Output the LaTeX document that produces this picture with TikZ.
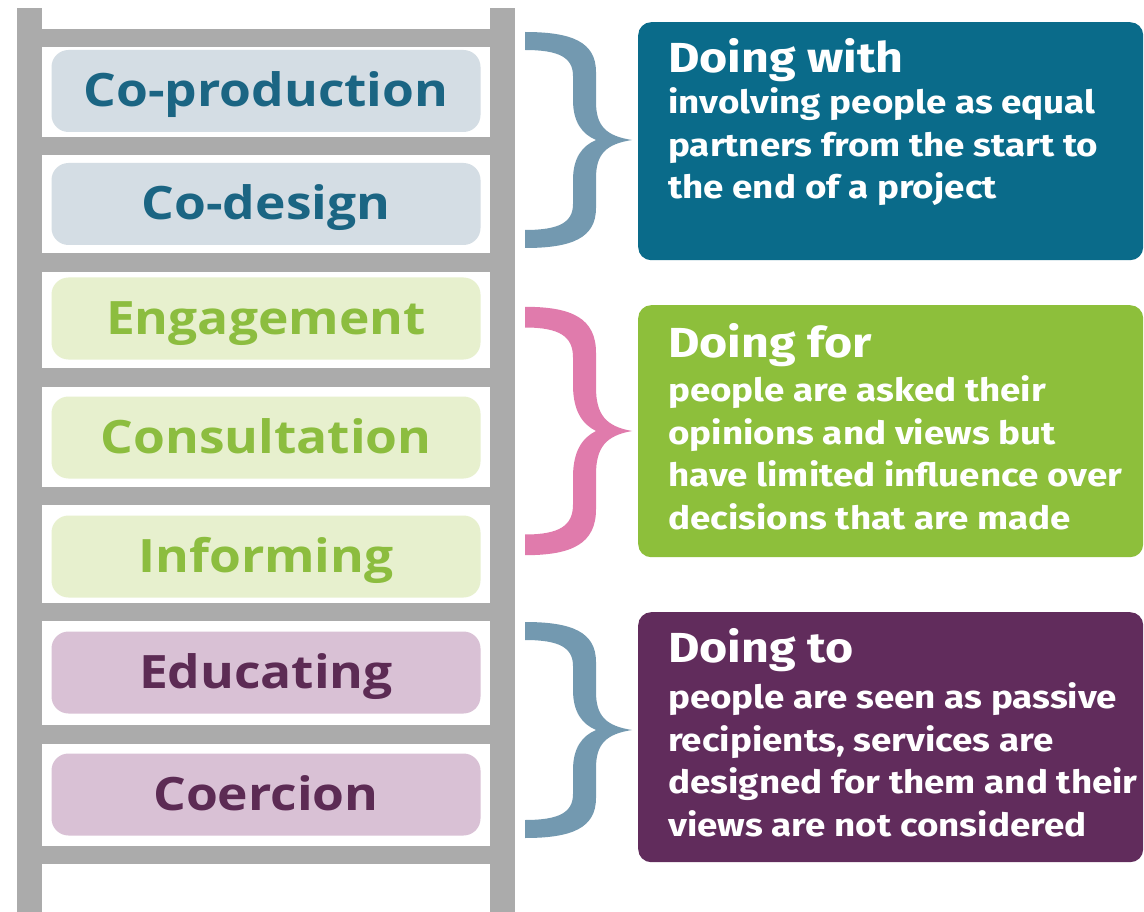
\documentclass[tikz,border=0pt]{standalone}
\usepackage{fontspec}
\newfontfamily\laddfont{Open Sans}[FakeStretch=1.12]
\newfontfamily\boxfont{Fira Sans}[FakeStretch=1.15]

\definecolor{railgray}{HTML}{ABABAB}
\definecolor{withfill}{HTML}{D4DDE4}
\definecolor{withtext}{HTML}{1B6583}
\definecolor{forfill}{HTML}{E7F0CE}
\definecolor{fortext}{HTML}{8CBD3F}
\definecolor{tofill}{HTML}{D9C1D5}
\definecolor{totext}{HTML}{5C2B54}
\definecolor{withbox}{HTML}{0A6B8A}
\definecolor{forbox}{HTML}{8DBF3B}
\definecolor{tobox}{HTML}{612C5C}
\definecolor{braceblue}{HTML}{7399B0}
\definecolor{bracepink}{HTML}{E07BAC}

\tikzset{
	rungbox/.style={rounded corners=17pt, minimum width=429pt, minimum height=82pt, inner sep=0pt,
		font=\laddfont\bfseries\fontsize{46}{50}\selectfont, text height=34pt, text depth=2pt},
	sidebox/.style={rounded corners=13pt, minimum width=505pt, inner sep=0pt, anchor=north west},
	headtxt/.style={font=\boxfont\bfseries\fontsize{42}{46}\selectfont, text=white, anchor=base west, inner sep=0pt},
	% base of a multi-line node = baseline of its last line
	bodytxt/.style={font=\boxfont\bfseries\fontsize{32}{42.5}\selectfont, text=white, align=left, anchor=base west, inner sep=0pt},
	ladderbrace/.pic={
		\fill[#1] (525,-108) .. controls (572,-108) and (596,-98) .. (596,-68) -- (596,-38)
			.. controls (596,-14) and (606,-4) .. (632,0) .. controls (606,4) and (596,14) .. (596,38) -- (596,68)
			.. controls (596,98) and (572,108) .. (525,108) -- (525,90) .. controls (560,90) and (573,82) .. (573,64)
			-- (573,40) .. controls (573,18) and (582,6) .. (596,0) .. controls (582,-6) and (573,-18) .. (573,-40)
			-- (573,-64) .. controls (573,-82) and (560,-90) .. (525,-90) -- cycle;
	}
}

\begin{document}
\begin{tikzpicture}[x=1pt,y=-1pt]
		\useasboundingbox[fill=white] (0,0) rectangle (1144,912);
		
		% ladder
		\fill[railgray] (17,8) rectangle (42,912);
		\fill[railgray] (490,8) rectangle (515,912);
		\foreach \ya/\yb in {29/47,137/155,253/272,368/387,487/505,603/621,725/744,846/864}
			\fill[railgray] (42,\ya) rectangle (490,\yb);
		
		\node[rungbox, fill=withfill, text=withtext] (coprod) at (266,91) {Co-production};
		\node[rungbox, fill=withfill, text=withtext] (codesign) at (266,204) {Co-design};
		\node[rungbox, fill=forfill, text=fortext] (engage) at (266,318.5) {Engagement};
		\node[rungbox, fill=forfill, text=fortext] (consult) at (266,437.5) {Consultation};
		\node[rungbox, fill=forfill, text=fortext] (inform) at (266,556.5) {Informing};
		\node[rungbox, fill=tofill, text=totext] (educate) at (266,672.5) {Educating};
		\node[rungbox, fill=tofill, text=totext] (coerce) at (266,794.5) {Coercion};
		
		% braces
		\pic at (0,140) {ladderbrace=braceblue};
		\pic[yscale=1.15] at (0,431) {ladderbrace=bracepink};
		\pic at (0,730) {ladderbrace=braceblue};
		
		% side boxes
		\node[sidebox, fill=withbox, minimum height=238pt] (withpanel) at (638,22) {};
		\node[headtxt] (withhead) at ([xshift=30pt,yshift=-51pt]withpanel.north west) {Doing with};
		\node[bodytxt] (withbody) at ([xshift=30pt,yshift=-177pt]withpanel.north west)
			{involving people as equal\\partners from the start to\\the end of a project};
		
		\node[sidebox, fill=forbox, minimum height=252pt] (forpanel) at (638,305) {};
		\node[headtxt] (forhead) at ([xshift=30pt,yshift=-52pt]forpanel.north west) {Doing for};
		\node[bodytxt] (forbody) at ([xshift=30pt,yshift=-224pt]forpanel.north west)
			{people are asked their\\opinions and views but\\have limited influence over\\decisions that are made};
		
		\node[sidebox, fill=tobox, minimum height=250pt] (topanel) at (638,612) {};
		\node[headtxt] (tohead) at ([xshift=30pt,yshift=-50pt]topanel.north west) {Doing to};
		\node[bodytxt] (tobody) at ([xshift=30pt,yshift=-224pt]topanel.north west)
			{people are seen as passive\\recipients, services are\\designed for them and their\\views are not considered};
\end{tikzpicture}
\end{document}
